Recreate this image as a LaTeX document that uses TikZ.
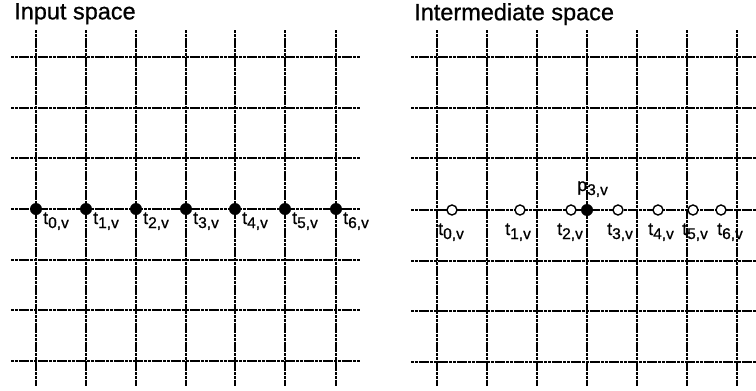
\documentclass[tikz,border=0pt]{standalone}
\usepackage{fontspec}
\setmainfont[FakeBold=0.8]{Liberation Sans}
\newcommand{\lbl}[2]{#1{\fontsize{15.5}{15.5}\selectfont\raisebox{-4pt}{#2}}}
\begin{document}
\begin{tikzpicture}[x=1pt,y=-1pt,
  gridline/.style={line width=1.5pt, dash pattern=on 3.2pt off 0.6pt},
  fdot/.style={circle,fill=black,inner sep=0pt,minimum size=12pt},
  odot/.style={circle,draw=black,fill=white,line width=1.4pt,inner sep=0pt,minimum size=10pt},
  lab/.style={font=\fontsize{18}{18}\selectfont,inner sep=0pt,anchor=base west},
  ttl/.style={font=\fontsize{23.5}{23.5}\selectfont,inner sep=0pt,anchor=north west}]
\useasboundingbox (0,0) rectangle (756,391);
\fill[white] (0,0) rectangle (756,391);
% titles
\node[ttl] (title1) at (14,3) {Input space};
\node[ttl] (title2) at (414,3) {Intermediate space};
% left grid
\foreach \x in {36,86,136,186,235,285,336} \draw[gridline] (\x,30) -- (\x,386);
\foreach \y in {57,108,158,209,260,310,361} \draw[gridline] (11,\y) -- (360,\y);
% right grid
\foreach \x in {437,487,537,587,637,687,737} \draw[gridline] (\x,30) -- (\x,386);
\foreach \y in {57,108,158,210,261,311,362} \draw[gridline] (411,\y) -- (756,\y);
% left dots
\foreach \x [count=\i from 0] in {36,86,136,186,235,285,336} {
  \node[fdot] (a\i) at (\x,209) {};
  \node[lab] (la\i) at (\x+7,224) {\lbl{t}{\i,v}};
}
% right dots
\foreach \x [count=\i from 0] in {452,520,571,618,658,693,721} {
  \node[odot] (b\i) at (\x,210) {};
}
\node[fdot] (p3) at (587,210) {};
\foreach \x [count=\i from 0] in {438,505,557,607,648,682,717} {
  \node[lab] (lb\i) at (\x,235) {\lbl{t}{\i,v}};
}
\node[lab] (lp) at (577,191) {\lbl{p}{3,v}};
\end{tikzpicture}
\end{document}
